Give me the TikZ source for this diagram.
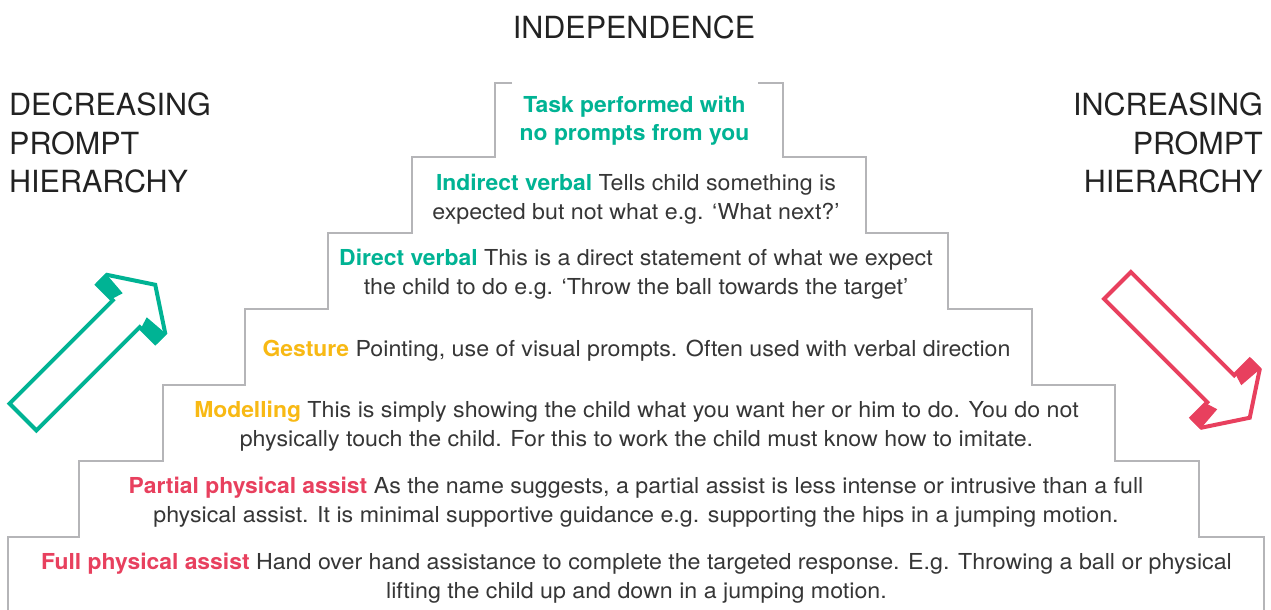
\documentclass[tikz,border=0pt]{standalone}
\usepackage{fontspec}
\setmainfont{TeX Gyre Heros}
\newfontfamily\bodyfont{TeX Gyre Heros}[FakeStretch=1.055, BoldFeatures={FakeStretch=1.04}]
\definecolor{tgreen}{HTML}{00B394}
\definecolor{tred}{HTML}{E8405E}
\definecolor{tyellow}{HTML}{F8B914}
\definecolor{stair}{HTML}{B5B5B8}
\definecolor{bodytxt}{HTML}{363636}
\definecolor{headtxt}{HTML}{222222}
\newcommand{\lab}[2]{{\color{#1}\bfseries #2}}
\tikzset{
  stairline/.style={draw=stair, line width=2.8pt, line join=miter},
  txt/.style={align=center, inner sep=0pt, text=bodytxt, font=\bodyfont\fontsize{22}{29}\selectfont},
  head/.style={inner sep=0pt, text=headtxt, font=\fontsize{30.5}{38.5}\selectfont},
  blockarrow/.pic={
    \draw[line width=4pt, line join=miter]
      (0,-19) -- (146,-19) -- (146,-41) -- (160,-41) -- (187,0) -- (160,41)
      -- (146,41) -- (146,19) -- (0,19) -- cycle;
    \fill (146,-43) -- (160,-43) -- (158,-17) -- (145,-21) -- cycle;
    \fill (146,43) -- (160,43) -- (158,17) -- (145,21) -- cycle;
  }
}
\begin{document}
\begin{tikzpicture}[x=1pt,y=-1pt]
\useasboundingbox[fill=white] (0,0) rectangle (1271,610);

% staircase
\draw[stairline] (512,83) -- (495,83) -- (495,157) -- (412,157) -- (412,233)
  -- (328,233) -- (328,309) -- (245,309) -- (245,385) -- (163,385) -- (163,461)
  -- (79,461) -- (79,537) -- (8,537) -- (8,612);
\draw[stairline] (758,83) -- (783,83) -- (783,157) -- (866,157) -- (866,233)
  -- (948,233) -- (948,309) -- (1032,309) -- (1032,385) -- (1115,385) -- (1115,461)
  -- (1199,461) -- (1199,537) -- (1264,537) -- (1264,612);

% arrows
\pic[color=tgreen] at (23,417) [rotate=45] {blockarrow};
\pic[color=tred] at (1117.5,285.5) [rotate=-45] {blockarrow};

% headings
\node[head] (indep) at (634,27) {INDEPENDENCE};
\node[head, align=left, anchor=north west] (decr) at (9,93) {DECREASING\\PROMPT\\HIERARCHY};
\node[head, align=right, anchor=north east] (incr) at (1263,93) {INCREASING\\PROMPT\\HIERARCHY};

% steps
\node[txt, text=tgreen, font=\bodyfont\fontsize{22}{28}\selectfont\bfseries] (task) at (634.5,121) {Task performed with\\no prompts from you};
\node[txt] (indirect) at (636,199.5) {\lab{tgreen}{Indirect verbal} Tells child something is\\expected but not what e.g. ‘What next?’};
\node[txt] (direct) at (636,274.5) {\lab{tgreen}{Direct verbal} This is a direct statement of what we expect\\the child to do e.g. ‘Throw the ball towards the target’};
\node[txt] (gesture) at (636.5,351) {\lab{tyellow}{Gesture} Pointing, use of visual prompts. Often used with verbal direction};
\node[txt] (model) at (636.5,426.5) {\lab{tyellow}{Modelling} This is simply showing the child what you want her or him to do. You do not\\physically touch the child. For this to work the child must know how to imitate.};
\node[txt] (partial) at (636,502.5) {\lab{tred}{Partial physical assist} As the name suggests, a partial assist is less intense or intrusive than a full\\physical assist. It is minimal supportive guidance e.g. supporting the hips in a jumping motion.};
\node[txt] (full) at (636.5,578.5) {\lab{tred}{Full physical assist} Hand over hand assistance to complete the targeted response. E.g. Throwing a ball or physical\\lifting the child up and down in a jumping motion.};
\end{tikzpicture}
\end{document}
